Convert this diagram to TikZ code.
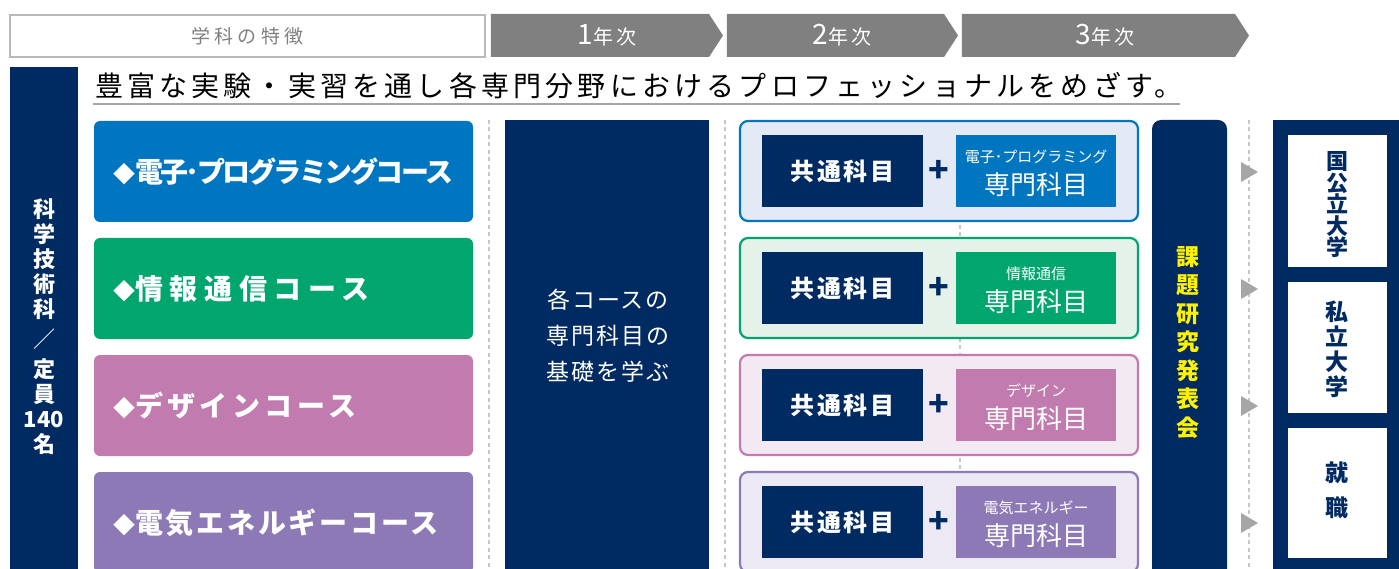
\documentclass[tikz,border=0pt]{standalone}
\usepackage{fontspec}
\setmainfont{Noto Sans CJK JP}
\usetikzlibrary{shapes.symbols}

\definecolor{navy}{RGB}{0,42,98}
\definecolor{hdgray}{RGB}{128,128,128}
\definecolor{cblue}{RGB}{0,117,192}
\definecolor{cgreen}{RGB}{0,166,110}
\definecolor{cpink}{RGB}{194,123,175}
\definecolor{cpurple}{RGB}{141,121,182}
\definecolor{lblue}{RGB}{227,234,246}
\definecolor{lgreen}{RGB}{228,242,234}
\definecolor{lpink}{RGB}{243,233,243}
\definecolor{lpurple}{RGB}{236,232,244}
\definecolor{kyellow}{RGB}{255,241,0}

\begin{document}
\begin{tikzpicture}[x=1pt,y=-1pt]
\tikzstyle{every node}=[inner sep=0pt, outer sep=0pt, align=center]
\tikzstyle{yearbox}=[signal, signal to=east, signal pointer angle=114, fill=hdgray, minimum height=43pt]
\tikzstyle{yeartext}=[text=white, font=\fontsize{20}{20}\selectfont\addfontfeatures{LetterSpace=15}]
\tikzstyle{course}=[rectangle, rounded corners=6pt, minimum width=379pt, minimum height=101pt]
\tikzstyle{coursetext}=[anchor=west, text=white, font=\fontsize{28}{30}\selectfont\bfseries]
\tikzstyle{yearbtwo}=[rectangle, rounded corners=8pt, line width=2.2pt, minimum width=398pt, minimum height=100pt]
\tikzstyle{common}=[rectangle, fill=navy, minimum width=161pt, minimum height=72pt, text=white, font=\fontsize{24}{26}\selectfont\bfseries\addfontfeatures{LetterSpace=12}]
\tikzstyle{senmon}=[rectangle, minimum width=160pt, minimum height=72pt]
\tikzstyle{sublabel}=[text=white, font=\fontsize{15}{16}\selectfont]
\tikzstyle{mainlabel}=[text=white, font=\fontsize{26}{28}\selectfont]
\tikzstyle{plus}=[text=navy, font=\fontsize{34}{34}\selectfont\bfseries]
\tikzstyle{dotline}=[gray!45, line width=1.6pt, dash pattern=on 4pt off 3.5pt]
\tikzstyle{tri}=[fill=gray!70]
\tikzstyle{goal}=[rectangle, fill=white, minimum width=99pt, text=navy]
\newcommand{\dia}{{\fontsize{22}{22}\selectfont ◆}}
\useasboundingbox (0,0) rectangle (1399,569);
\clip (0,0) rectangle (1399,569);
\fill[white] (0,0) rectangle (1399,569);

% header
\draw (247.5,36) node (hd) [rectangle, draw=gray!55, line width=1.5pt, minimum width=475pt, minimum height=42pt, text=hdgray, font=\fontsize{19}{19}\selectfont\addfontfeatures{LetterSpace=22}] {学科の特徴};
\draw (600,35.5) node (y1) [yearbox, minimum width=232pt] {};
\draw (835.5,35.5) node (y2) [yearbox, minimum width=231pt] {};
\draw (1098.5,35.5) node (y3) [yearbox, minimum width=287pt] {};
\draw (607,35.5) node (y1x) [yeartext] {{\fontsize{28}{28}\selectfont 1}年次};
\draw (842,35.5) node (y2x) [yeartext] {{\fontsize{28}{28}\selectfont 2}年次};
\draw (1105,35.5) node (y3x) [yeartext] {{\fontsize{28}{28}\selectfont 3}年次};

% title
\draw (95,97) node (title) [anchor=base west, font=\fontsize{28}{28}\selectfont\addfontfeatures{LetterSpace=15}] {豊富な実験・実習を通し各専門分野におけるプロフェッショナルをめざす。};
\draw[gray!70, line width=1.5pt] (93,104) -- (1180,104);

% dotted guides
\draw[dotline] (489,120) -- (489,569);
\draw[dotline] (725,120) -- (725,569);
\draw[dotline] (960,120) -- (960,569);
\draw[dotline] (1249,120) -- (1249,569);

% department bar
\draw (44,320) node (dept) [rectangle, fill=navy, minimum width=68pt, minimum height=506pt] {};
\draw (44,327) node (deptx) [text=white, font=\fontsize{22}{25}\selectfont\bfseries] {科\\学\\技\\術\\科\\[5pt]{\mdseries ／}\\[5pt]定\\員\\140\\名};

% courses
\draw (283.5,171.5) node (c1) [course, fill=cblue] {};
\draw (283.5,288.5) node (c2) [course, fill=cgreen] {};
\draw (283.5,405.5) node (c3) [course, fill=cpink] {};
\draw (283.5,522.5) node (c4) [course, fill=cpurple] {};
\draw (113,171.5) node (c1t) [coursetext] {\addfontfeatures{LetterSpace=-9}\dia 電子･プログラミングコース};
\draw (113,288.5) node (c2t) [coursetext] {\addfontfeatures{LetterSpace=24}\dia 情報通信コース};
\draw (113,405.5) node (c3t) [coursetext] {\addfontfeatures{LetterSpace=16}\dia デザインコース};
\draw (113,522.5) node (c4t) [coursetext] {\addfontfeatures{LetterSpace=10}\dia 電気エネルギーコース};

% first year
\draw (607,346.5) node (base) [rectangle, fill=navy, minimum width=204pt, minimum height=453pt] {};
\draw (608,336) node (basex) [text=white, font=\fontsize{23}{36}\selectfont\addfontfeatures{LetterSpace=8}] {各コースの\\専門科目の\\基礎を学ぶ};

% second year
\draw (939,171) node (s1) [yearbtwo, draw=cblue, fill=lblue] {};
\draw (939,288) node (s2) [yearbtwo, draw=cgreen, fill=lgreen] {};
\draw (939,405) node (s3) [yearbtwo, draw=cpink, fill=lpink] {};
\draw (939,522) node (s4) [yearbtwo, draw=cpurple, fill=lpurple] {};
\draw (842.5,171) node (k1) [common] {共通科目};
\draw (842.5,288) node (k2) [common] {共通科目};
\draw (842.5,405) node (k3) [common] {共通科目};
\draw (842.5,522) node (k4) [common] {共通科目};
\draw (939,171) node (p1) [plus] {+};
\draw (939,288) node (p2) [plus] {+};
\draw (939,405) node (p3) [plus] {+};
\draw (939,522) node (p4) [plus] {+};
\draw (1036,171) node (m1) [senmon, fill=cblue] {};
\draw (1036,288) node (m2) [senmon, fill=cgreen] {};
\draw (1036,405) node (m3) [senmon, fill=cpink] {};
\draw (1036,522) node (m4) [senmon, fill=cpurple] {};
\draw (1036,157) node (m1a) [sublabel] {電子･プログラミング};
\draw (1036,274) node (m2a) [sublabel] {情報通信};
\draw (1036,391) node (m3a) [sublabel] {デザイン};
\draw (1036,508) node (m4a) [sublabel] {電気エネルギー};
\draw (1036,185) node (m1b) [mainlabel] {専門科目};
\draw (1036,302) node (m2b) [mainlabel] {専門科目};
\draw (1036,419) node (m3b) [mainlabel] {専門科目};
\draw (1036,536) node (m4b) [mainlabel] {専門科目};

% third year
\draw (1189.5,350) node (kadai) [rectangle, rounded corners=9pt, fill=navy, minimum width=75pt, minimum height=460pt] {};
\draw (1188,342.5) node (kadaix) [text=kyellow, font=\fontsize{23}{28.5}\selectfont\bfseries] {課\\題\\研\\究\\発\\表\\会};

% arrows
\fill[tri] (1241,162) -- (1258,172) -- (1241,182) -- cycle;
\fill[tri] (1241,279) -- (1258,289) -- (1241,299) -- cycle;
\fill[tri] (1241,396) -- (1258,406) -- (1241,416) -- cycle;
\fill[tri] (1241,513) -- (1258,523) -- (1241,533) -- cycle;

% after graduation
\draw (1339,347.5) node (out) [rectangle, fill=navy, minimum width=132pt, minimum height=455pt] {};
\draw (1337.5,201) node (g1) [goal, minimum height=132pt] {};
\draw (1337.5,347.5) node (g2) [goal, minimum height=131pt] {};
\draw (1337.5,493) node (g3) [goal, minimum height=130pt] {};
\draw (1337,205) node (g1x) [text=navy, font=\fontsize{22}{21.5}\selectfont\bfseries] {国\\公\\立\\大\\学};
\draw (1337,349.5) node (g2x) [text=navy, font=\fontsize{23}{25}\selectfont\bfseries] {私\\立\\大\\学};
\draw (1337,490.5) node (g3x) [text=navy, font=\fontsize{23}{35}\selectfont\bfseries] {就\\職};
\end{tikzpicture}
\end{document}
